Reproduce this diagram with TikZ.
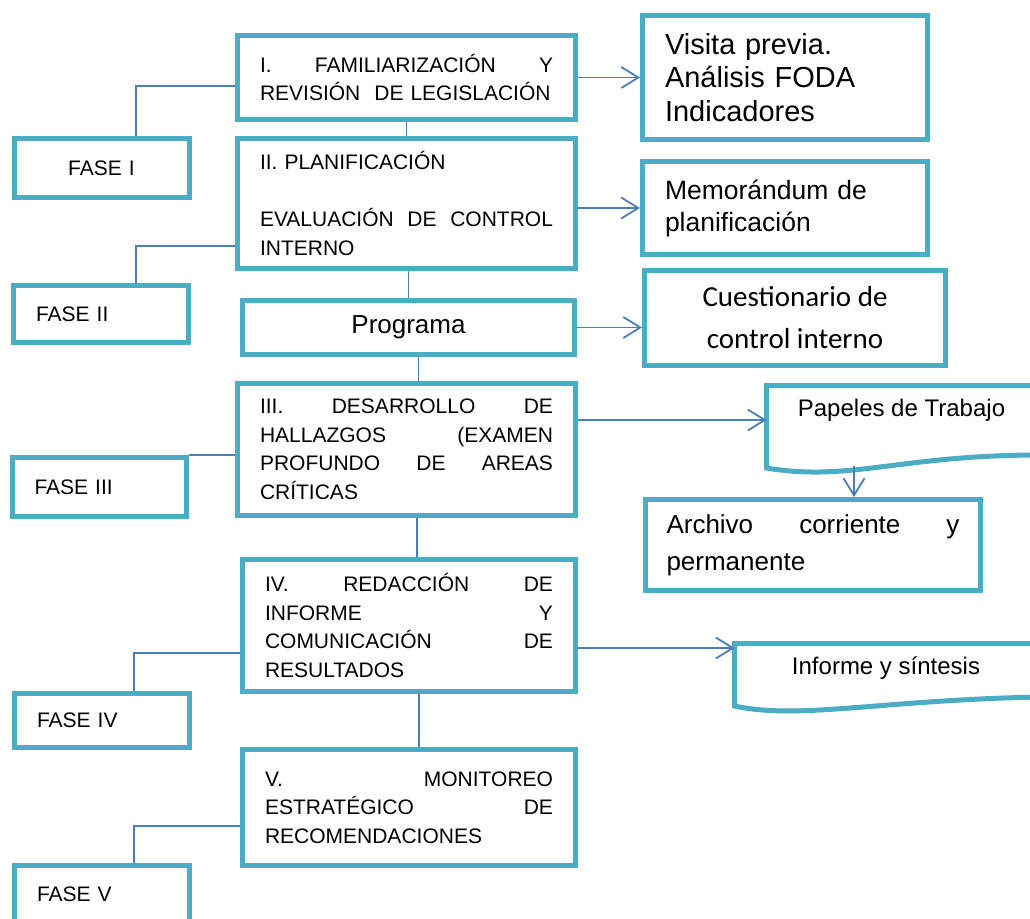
\documentclass[tikz,border=0pt]{standalone}
\usepackage{fontspec}
\setmainfont{Liberation Sans}
\newfontfamily\calibri{Carlito}
\usepackage{tikz}
\usetikzlibrary{arrows.meta}

\definecolor{boxteal}{HTML}{4BACC6}
\definecolor{linkblue}{HTML}{4A7EBB}

\begin{document}
\begin{tikzpicture}[x=1pt, y=-1pt,
    box/.style={draw=boxteal, line width=5pt, rectangle, inner sep=0pt, text=black},
    phase/.style={box, text width=293pt, inner xsep=22.5pt, align=left, font=\fontsize{21}{28.5}\selectfont},
    fase/.style={box, minimum width=175pt, text width=130pt, inner xsep=22.5pt, align=left, font=\fontsize{21}{26}\selectfont},
    doc/.style={text=black, inner sep=0pt, font=\fontsize{24}{30}\selectfont},
    link/.style={draw=linkblue, line width=1.8pt},
    arrow/.style={link, -{Straight Barb[length=17pt, width=21pt]}}]
    \useasboundingbox (0, 0) rectangle (1030, 918);
    \clip (0, 0) rectangle (1030, 918);

    % Fase I
    \node [phase, minimum height=84pt] (b1) at (406.5, 77.5) {I.\hfill FAMILIARIZACIÓN\hfill Y\\REVISIÓN \ DE LEGISLACIÓN};
    \node [box, minimum width=285pt, minimum height=124pt, text width=240pt, inner xsep=22.5pt, align=left, font=\fontsize{29}{33.5}\selectfont] (visita) at (785, 77.5) {Visita previa.\\Análisis FODA\\Indicadores};
    \node [fase, minimum height=59pt, align=center] (f1) at (101.5, 168) {FASE I};
    \draw [link] ([yshift=-8.5pt]b1.west) -| ([xshift=34.5pt]f1.north);
    \draw [arrow] (b1.east) -- (visita.west);

    % Fase II
    \node [phase, minimum height=130pt] (b2) at (406.5, 203.5) {II. PLANIFICACIÓN\\[28.5pt]EVALUACIÓN\hfill DE\hfill CONTROL\\INTERNO};
    \node [box, minimum width=285pt, minimum height=93pt, text width=240pt, inner xsep=22.5pt, align=left, font=\fontsize{26.5}{32}\selectfont] (memo) at (785, 208) {Memorándum de\\planificación};
    \node [fase, minimum height=57pt] (f2) at (101, 314) {FASE II};
    \node [box, minimum width=332pt, minimum height=54pt, font=\fontsize{26}{30}\selectfont] (prog) at (408.5, 327.5) {Programa};
    \node [box, minimum width=301pt, minimum height=95pt, align=center, font=\calibri\fontsize{29}{42}\selectfont] (cuest) at (795, 318) {Cuestionario de\\control interno};
    \draw [link] (b1.south) -- (b2.north);
    \draw [link] ([yshift=-42.5pt]b2.west) -| ([xshift=35pt]f2.north);
    \draw [link] (prog.north) -- (prog.north |- b2.south);
    \draw [arrow] (b2.east |- memo.west) -- (memo.west);
    \draw [arrow] (prog.east) -- (prog.east -| cuest.west);

    % Fase III
    \node [phase, minimum height=132pt] (b3) at (406.5, 449.5) {III.\hfill DESARROLLO\hfill DE\\HALLAZGOS\hfill (EXAMEN\\PROFUNDO\hfill DE\hfill AREAS\\CRÍTICAS};
    \node [fase, minimum width=174pt, minimum height=59pt, inner xsep=21.5pt] (f3) at (99.5, 487) {FASE III};
    \draw [box] (1040, 385.5) -- (766.5, 385.5) -- (766.5, 468) .. controls (850, 482) and (900, 455) .. (1040, 455);
    \node [doc] (pap) at (901.5, 410) {Papeles de Trabajo};
    \coordinate (pap-in) at (766.5, 420);
    \coordinate (pap-out) at (854, 466);
    \node [box, minimum width=335pt, minimum height=91pt, text width=293pt, inner xsep=21pt, align=left, font=\fontsize{26}{37}\selectfont] (arch) at (813, 545) {Archivo\hfill corriente\hfill y\\permanente};
    \draw [link] ([xshift=10pt]prog.south) -- ([xshift=10pt]prog.south |- b3.north);
    \draw [link] (f3.north east) -- (f3.north east -| b3.west);
    \draw [arrow] (b3.east |- pap-in) -- (pap-in);
    \draw [arrow] (pap-out) -- (pap-out |- arch.north);

    % Fase IV
    \node [phase, text width=288pt, minimum height=132pt] (b4) at (409, 625.5) {IV.\hfill REDACCIÓN\hfill DE\\INFORME\hfill Y\\COMUNICACIÓN\hfill DE\\RESULTADOS};
    \node [fase, minimum height=54pt] (f4) at (102, 720.5) {FASE IV};
    \draw [box] (1040, 643.5) -- (734.5, 643.5) -- (734.5, 706) .. controls (800, 720) and (880, 700) .. (1040, 697);
    \node [doc] (inf) at (886, 668) {Informe y síntesis};
    \coordinate (inf-in) at (734.5, 648);
    \draw [link] ([xshift=8pt]b4.north) -- ([xshift=8pt]b4.north |- b3.south);
    \draw [link] ([yshift=-27.5pt]b4.west) -| ([xshift=32pt]f4.north);
    \draw [arrow] (b4.east |- inf-in) -- (inf-in);

    % Fase V
    \node [phase, text width=288pt, minimum height=116pt] (b5) at (409, 807.5) {V.\hfill MONITOREO\\ESTRATÉGICO\hfill DE\\RECOMENDACIONES};
    \node [fase, minimum height=58pt] (f5) at (102, 894.5) {FASE V};
    \draw [link] ([xshift=10pt]b5.north) -- ([xshift=10pt]b5.north |- b4.south);
    \draw [link] ([yshift=-18.5pt]b5.west) -| ([xshift=32pt]f5.north);
\end{tikzpicture}
\end{document}
